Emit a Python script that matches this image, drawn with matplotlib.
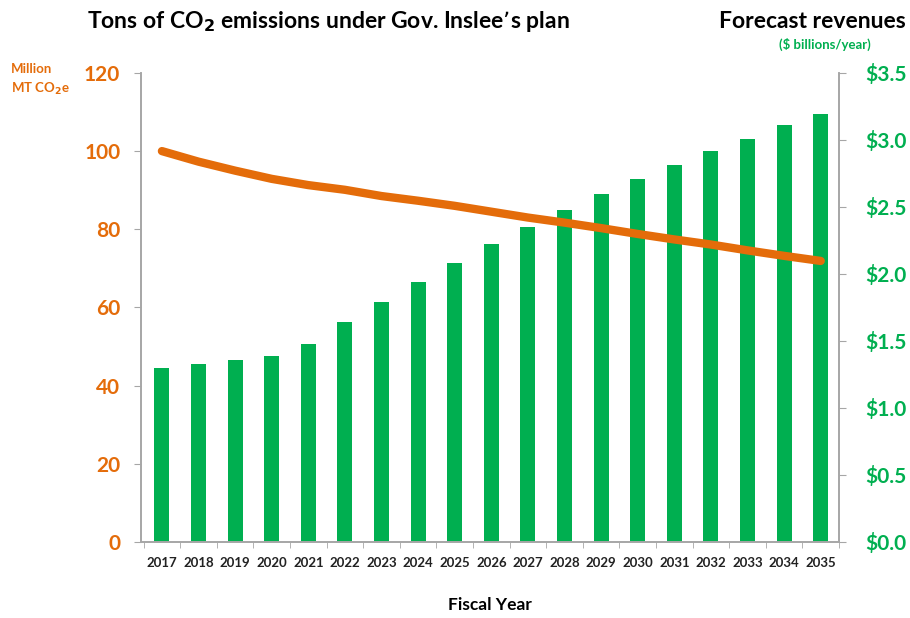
import matplotlib
matplotlib.use("Agg")
import matplotlib.pyplot as plt
import numpy as np

# === Dati ===
years = list(range(2017, 2036))
revenues = [1.30, 1.33, 1.36, 1.39, 1.48, 1.64, 1.79, 1.94, 2.08, 2.22,
            2.35, 2.48, 2.60, 2.71, 2.81, 2.92, 3.01, 3.11, 3.19]  # $ miliardi/anno
emissions = [100.0, 97.3, 95.0, 92.9, 91.3, 90.1, 88.5, 87.3, 86.0, 84.5,
             83.0, 81.7, 80.3, 78.8, 77.4, 76.1, 74.6, 73.2, 71.9]  # milioni MT CO2e
left_ticks = [0, 20, 40, 60, 80, 100, 120]
right_ticks = [0, 0.5, 1.0, 1.5, 2.0, 2.5, 3.0, 3.5]

GREEN = "#00AF50"
ORANGE = "#E46C0A"
GRAY = "#A6A6A6"

plt.rcParams['font.family'] = ['Lato', 'DejaVu Sans']
plt.rcParams['font.weight'] = 'bold'

fig = plt.figure(figsize=(9.1, 6.18), dpi=100)
ax = fig.add_axes([0.155, 0.123, 0.767, 0.759])
ax2 = ax.twinx()

x = np.arange(len(years))

# barre (asse destro, ricavi)
ax2.bar(x, revenues, width=0.41, color=GREEN, zorder=1)
ax2.set_ylim(0, 3.5)
ax2.set_yticks(right_ticks)
ax2.set_yticklabels([f"${v:.1f}" for v in right_ticks], color=GREEN, fontsize=15, fontweight='bold')

# linea (asse sinistro, emissioni)
ax.plot(x, emissions, color=ORANGE, lw=6, solid_capstyle='round', zorder=3)
ax.set_ylim(0, 120)
ax.set_yticks(left_ticks)
ax.set_yticklabels([str(v) for v in left_ticks], color=ORANGE, fontsize=15, fontweight='bold')

# linea sopra le barre
ax.set_zorder(ax2.get_zorder() + 1)
ax.patch.set_visible(False)

ax.set_xlim(-0.57, len(years) - 0.5)
ax.set_xticks(x)
ax.set_xticklabels([str(y) for y in years], fontsize=9.5, fontweight='bold', color="#222222")
ax.set_xticks(np.arange(-0.5, len(years), 1), minor=True)
ax.tick_params(axis='x', which='major', length=0, pad=11)
ax.tick_params(axis='x', which='minor', length=4, color=GRAY)
ax.tick_params(axis='y', length=5, color=GRAY, pad=10)
ax2.tick_params(axis='y', length=5, color=GRAY, pad=14)

for a in (ax, ax2):
    a.spines['top'].set_visible(False)
    for s in ('left', 'right', 'bottom'):
        a.spines[s].set_color(GRAY)
        a.spines[s].set_linewidth(1.2)

ax.set_xlabel("Fiscal Year", fontsize=12.5, fontweight='bold', labelpad=20)

# testi intorno
fig.text(0.361, 0.965, "Tons of CO$_2$ emissions under Gov. Inslee’s plan",
         ha='center', va='center', fontsize=16.5, fontweight='bold')
fig.text(0.893, 0.965, "Forecast revenues", ha='center', va='center',
         fontsize=16.5, fontweight='bold')
fig.text(0.907, 0.928, "($ billions/year)", ha='center', va='center',
         fontsize=9.5, fontweight='bold', color=GREEN)
fig.text(0.012, 0.87, "Million\nMT CO$_2$e", ha='left', va='center',
         fontsize=9.5, fontweight='bold', color=ORANGE, linespacing=1.5)

fig.savefig("out.png", dpi=100)
